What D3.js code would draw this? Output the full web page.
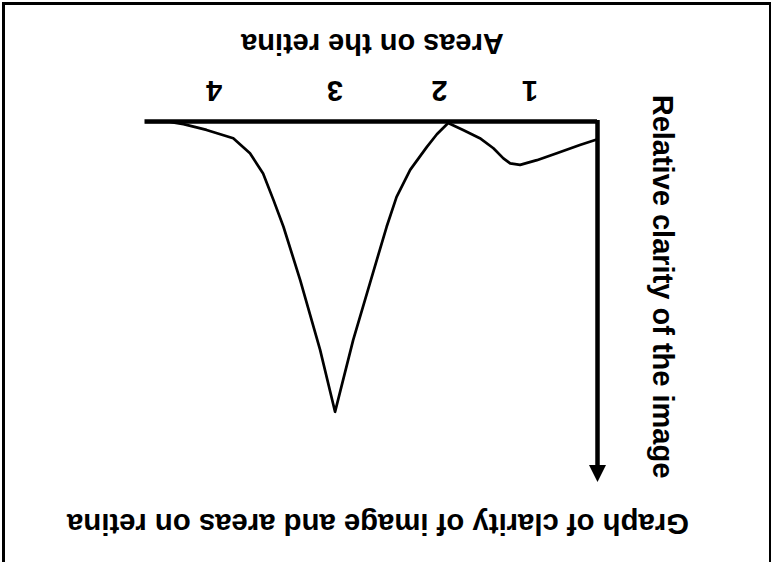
<!DOCTYPE html>
<html>
<head>
<meta charset="utf-8">
<script src="https://cdn.jsdelivr.net/npm/d3@7"></script>
<style>
    body { margin: 0; background: #ffffff; }
    svg { display: block; }
    text { font-family: "Liberation Sans", Arial, sans-serif; font-weight: bold; fill: #000000; }
</style>
</head>
<body>
<svg id="draw" width="771" height="562"></svg>
<script>
// areas marked along the retina (position in % of the drawn axis length)
let areaLabels = ["1", "2", "3", "4"];
let areaPositions = [14.8, 34.8, 57.9, 84.6];

// traced curve: position along retina vs relative clarity
let positionValues = [0, 3.9, 9.0, 13.4, 17.1, 19.3, 20.8, 23.0, 26.0, 29.7, 33.0, 35.5, 37.7, 41.4, 44.4, 46.6,
    50.3, 54.0, 58.0, 61.3, 65.7, 69.4, 71.6, 73.9, 76.8, 80.5, 86.4, 91.5, 94.5, 100];
let clarityValues = [4.8, 6.4, 8.7, 10.6, 11.9, 11.5, 10.1, 7.3, 4.5, 2.2, 0.3, 3.4, 6.9, 13.3, 20.8, 29.1,
    44.8, 60.6, 80.5, 63.3, 43.9, 29.1, 21.7, 14.3, 8.7, 4.5, 2.2, 0.6, 0, 0];

let titleText = "Graph of clarity of image and areas on retina";
let xTitle = "Areas on the retina";
let yTitle = "Relative clarity of the image";

let svg = d3.select("#draw"), scales;

function drawFrame() {
    svg.append("rect")
        .attr("x", 3.5)
        .attr("y", 3.5)
        .attr("width", 767)
        .attr("height", 600)
        .attr("fill", "none")
        .attr("stroke", "#000")
        .attr("stroke-width", 3);
}

function drawChart() {
    // the original figure is printed upside down, so draw it normally and turn it over
    let g = svg.append("g").attr("transform", "rotate(180 385.5 281)");
    scales = {
        x: d3.scaleLinear().domain([0, 100]).range([173.5, 626]),
        y: d3.scaleLinear().domain([0, 100]).range([440, 80])
    };

    let xAxis = g.append("g")
        .attr("transform", "translate(0," + scales.y(0) + ")")
        .call(d3.axisBottom(scales.x)
            .tickValues(areaPositions)
            .tickFormat((d, i) => areaLabels[i])
            .tickSize(0)
            .tickSizeOuter(0)
            .tickPadding(20));
    xAxis.select(".domain").attr("stroke", "#000").attr("stroke-width", 4.5);
    xAxis.selectAll("text")
        .attr("font-family", "Liberation Sans, Arial, sans-serif")
        .attr("font-weight", "bold")
        .attr("font-size", 29);

    // vertical axis with arrow
    let x0 = scales.x(0), tip = scales.y(100);
    g.append("line")
        .attr("x1", x0).attr("x2", x0)
        .attr("y1", scales.y(0) + 2).attr("y2", tip + 16)
        .attr("stroke", "#000")
        .attr("stroke-width", 4.5);
    g.append("path")
        .attr("d", "M" + x0 + "," + tip + "L" + (x0 - 8.5) + "," + (tip + 17) + "L" + (x0 + 8.5) + "," + (tip + 17) + "Z")
        .attr("fill", "#000");

    let line = d3.line()
        .x((d, i) => scales.x(positionValues[i]))
        .y(d => scales.y(d));
    g.append("path")
        .attr("d", line(clarityValues))
        .attr("fill", "none")
        .attr("stroke", "#000")
        .attr("stroke-width", 2.7)
        .attr("stroke-linejoin", "round");

    g.append("text")
        .attr("x", 398.5)
        .attr("y", 528.5)
        .attr("text-anchor", "middle")
        .attr("font-size", 29)
        .text(xTitle);
    g.append("text")
        .attr("transform", "translate(118, 275.5) rotate(-90)")
        .attr("text-anchor", "middle")
        .attr("font-size", 29)
        .text(yTitle);
    g.append("text")
        .attr("x", 393)
        .attr("y", 48)
        .attr("text-anchor", "middle")
        .attr("font-size", 29.3)
        .text(titleText);
}

drawFrame();
drawChart();
</script>
</body>
</html>
